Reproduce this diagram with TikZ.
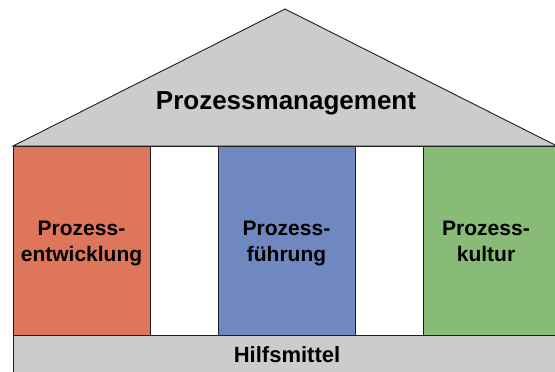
\documentclass[tikz,border=0pt]{standalone}
\usepackage{fontspec}
\setmainfont{Liberation Sans}
\definecolor{roofgray}{RGB}{204,204,204}
\definecolor{pred}{RGB}{221,118,90}
\definecolor{pblue}{RGB}{111,136,192}
\definecolor{pgreen}{RGB}{136,187,119}
\definecolor{edge}{RGB}{30,30,30}
\begin{document}
\begin{tikzpicture}[x=1pt,y=-1pt,
  part/.style={draw=edge, line width=0.9pt, anchor=north west, inner sep=0pt, outer sep=0pt},
  title/.style={font=\bfseries\fontsize{26}{30}\selectfont, anchor=base, inner sep=0pt},
  ptext/.style={font=\bfseries\fontsize{21}{25}\selectfont, anchor=base, inner sep=0pt},
  btext/.style={font=\bfseries\fontsize{22}{26}\selectfont, anchor=base, inner sep=0pt}]
\useasboundingbox (0,0) rectangle (555,372);
\clip (0,0) rectangle (555,372);
\fill[white] (0,0) rectangle (555,372);
% roof
\coordinate (rl) at (13,146);
\coordinate (ra) at (285,9);
\coordinate (rr) at (557,146);
\draw[draw=edge, line width=0.9pt, fill=roofgray, line join=miter] (rl) -- (ra) -- (rr) -- cycle;
\node[title] (tm) at (286,109) {Prozessmanagement};
% pillars
\node[part, fill=pred, minimum width=137pt, minimum height=189pt] (p1) at (13,146) {};
\node[part, fill=white, minimum width=68pt, minimum height=189pt] (g1) at (150,146) {};
\node[part, fill=pblue, minimum width=137pt, minimum height=189pt] (p2) at (218,146) {};
\node[part, fill=white, minimum width=68pt, minimum height=189pt] (g2) at (355,146) {};
\node[part, fill=pgreen, minimum width=137pt, minimum height=189pt] (p3) at (423,146) {};
% base
\node[part, fill=roofgray, minimum width=545pt, minimum height=45pt] (base) at (13,335) {};
% pillar texts
\node[ptext] (t1a) at (81.5,235) {Prozess-};
\node[ptext] (t1b) at (81.5,261.5) {entwicklung};
\node[ptext] (t2a) at (286.5,235) {Prozess-};
\node[ptext] (t2b) at (286.5,261.5) {führung};
\node[ptext] (t3a) at (486,235) {Prozess-};
\node[ptext] (t3b) at (486,261.5) {kultur};
\node[btext] (tb) at (287,362) {Hilfsmittel};
\end{tikzpicture}
\end{document}
